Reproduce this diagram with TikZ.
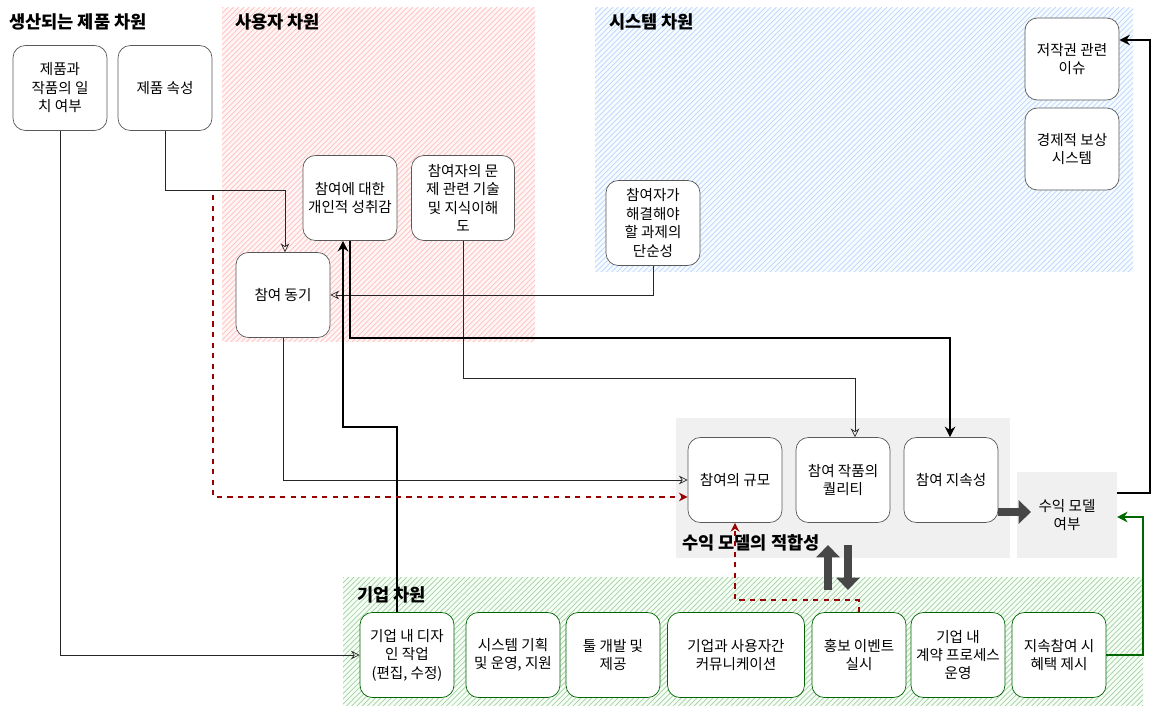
\documentclass[tikz,border=0pt]{standalone}
\usepackage{fontspec}
\setmainfont{Noto Sans CJK KR}
\usetikzlibrary{patterns}
\usetikzlibrary{arrows.meta}
\tikzset{
  box/.style={draw=gray!70!black, rounded corners=7pt, fill=white, align=center,
    minimum width=1.88cm, minimum height=1.7cm, inner sep=1pt, font=\fontsize{8.3}{10.5}\selectfont},
  gbox/.style={box, draw=green!40!black},
  lbl/.style={anchor=west, font=\bfseries\fontsize{10}{12}\selectfont},
  con/.style={gray!30!black, -{Stealth[length=5pt,width=5pt,open]}},
  thk/.style={black, line width=1.3pt, -{Stealth[length=6pt,width=6pt]}},
  red dash/.style={red!60!black, dashed, line width=0.9pt, -{Stealth[length=5pt,width=5pt,open]}},
  blk/.style={gray!20!black!80, line width=5pt, -{Triangle[length=7pt,width=13pt]}}
}
\begin{document}
\begin{tikzpicture}[x=0.02cm,y=-0.02cm]
\useasboundingbox (0,0) rectangle (1162,715);
% regions
\fill[red!4] (222,8) rectangle (535,342);
\fill[pattern=north east lines, pattern color=red!25] (222,8) rectangle (535,342);
\fill[cyan!4] (595,8) rectangle (1133,272);
\fill[pattern=north east lines, pattern color=cyan!30!blue!25] (595,8) rectangle (1133,272);
\fill[green!4] (343,577) rectangle (1143,705);
\fill[pattern=north east lines, pattern color=green!45!black!35] (343,577) rectangle (1143,705);
\fill[gray!12] (676,418) rectangle (1010,558);
\fill[gray!12] (1017,472) rectangle (1117,558);
\node[lbl] at (3,22) {생산되는 제품 차원};
\node[lbl] at (229,22) {사용자 차원};
\node[lbl] at (603,22) {시스템 차원};
\node[lbl] at (676,543) {수익 모델의 적합성};
\node[lbl] at (351,595) {기업 차원};
\node[align=center, font=\fontsize{8.3}{10.5}\selectfont] (profit) at (1067,515) {수익 모델\\여부};

% product / user / system nodes
\node[box] (match) at (60,88) {제품과\\작품의 일\\치 여부};
\node[box] (attr) at (165,88) {제품 속성};
\node[box] (achieve) at (350,198) {참여에 대한\\개인적 성취감};
\node[box, minimum width=2.06cm] (skill) at (463,198) {참여자의 문\\제 관련 기술\\및 지식이해\\도};
\node[box] (motive) at (283,295) {참여 동기};
\node[box] (simple) at (653,223) {참여자가\\해결해야\\할 과제의\\단순성};
\node[box, minimum height=1.64cm] (copy) at (1072,59) {저작권 관련\\이슈};
\node[box, minimum height=1.64cm] (reward) at (1072,149) {경제적 보상\\시스템};
\node[box] (scale) at (735,480) {참여의 규모};
\node[box] (quality) at (843,480) {참여 작품의\\퀄리티};
\node[box] (persist) at (951,480) {참여 지속성};

% company nodes
\node[gbox] (design) at (407,655) {기업 내 디자\\인 작업\\(편집, 수정)};
\node[gbox] (plan) at (513,655) {시스템 기획\\및 운영, 지원};
\node[gbox] (tool) at (613,655) {툴 개발 및\\제공};
\node[gbox, minimum width=2.74cm] (comm) at (736,655) {기업과 사용자간\\커뮤니케이션};
\node[gbox] (promo) at (859,655) {홍보 이벤트\\실시};
\node[gbox] (contract) at (958,655) {기업 내\\계약 프로세스\\운영};
\node[gbox] (bonus) at (1059,655) {지속참여 시\\혜택 제시};

% connectors
\draw[con] (attr.south) |- (285,190) -- (motive.north -| 285,0);
\draw[con] (match.south) |- (design.west);
\draw[con] (simple.south) |- (motive.east);
\draw[con] (motive.south) |- (scale.west);
\draw[con] (skill.south) |- (855,378) -- (quality.north -| 855,0);
\draw[thk] (design.north -| 397,0) |- (343,427) -- (achieve.south -| 343,0);
\draw[thk] (achieve.south -| 350,0) |- (950,338) -- (persist.north -| 950,0);
\draw[red dash] (213,195) |- (scale.west |- 0,497);
\draw[red dash] (promo.north) |- (735,600) -- (scale.south);
\draw[blk] (828,590) -- (828,545);
\draw[blk] (848,545) -- (848,590);
\draw[blk] (persist.east |- 0,512) -- (1031,512);
\draw[thk, line width=1pt] (1117,493) -| (1150,40) -- (copy.east |- 0,40);
\draw[green!40!black, line width=1pt, -{Stealth[length=6pt,width=6pt]}] (bonus.east) -| (1143,517) -- (1117,517);
\end{tikzpicture}
\end{document}
